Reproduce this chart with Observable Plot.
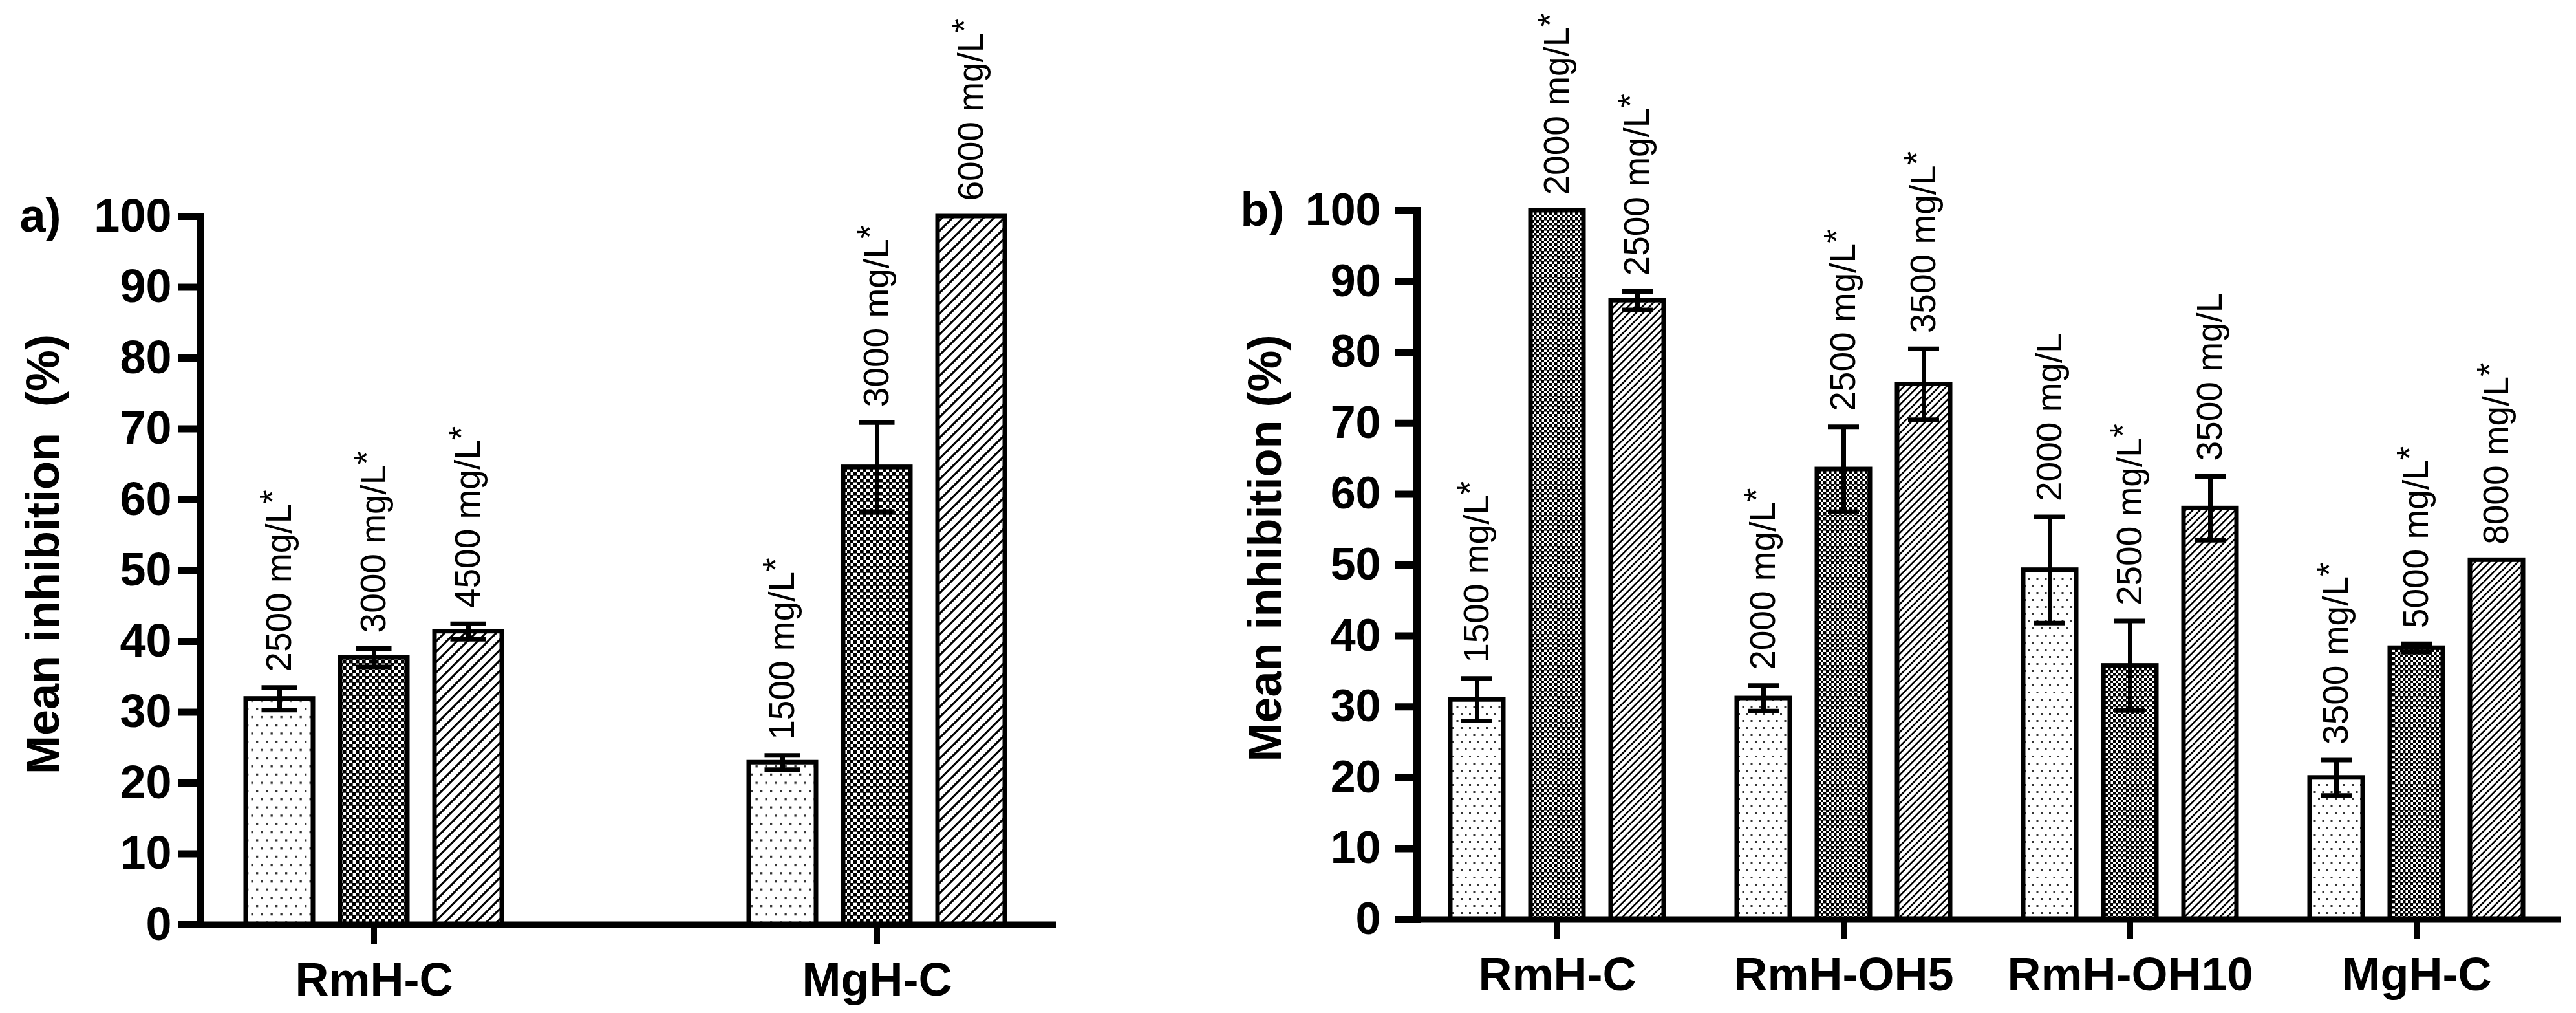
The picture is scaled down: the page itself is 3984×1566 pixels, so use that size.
<!DOCTYPE html>
<html><head><meta charset="utf-8">
<script src="https://cdn.jsdelivr.net/npm/d3@7"></script>
<script src="https://cdn.jsdelivr.net/npm/@observablehq/plot@0.6"></script>
<style>
html,body{margin:0;padding:0;background:#fff;}
#wrap{position:relative;width:3984px;height:1566px;overflow:hidden;background:#fff;}
#left{position:absolute;left:0;top:0;}
#right{position:absolute;left:1900px;top:0;}
svg text{font-family:"Liberation Sans",Arial,sans-serif;}
</style></head><body>
<svg width="0" height="0" style="position:absolute">
<defs>
  <pattern id="dotsA" patternUnits="userSpaceOnUse" width="15" height="25.4">
    <rect width="15" height="25.4" fill="#fff"/>
    <rect x="2" y="2" width="3.3" height="3.3" fill="#333"/>
    <rect x="9.5" y="14.7" width="3.3" height="3.3" fill="#333"/>
  </pattern>
  <pattern id="checkA" patternUnits="userSpaceOnUse" width="10" height="10">
    <rect width="10" height="10" fill="#fff"/>
    <rect x="0" y="0" width="5.6" height="5.6" fill="#000"/>
    <rect x="5" y="5" width="5.6" height="5.6" fill="#000"/>
  </pattern>
  <pattern id="hatchA" patternUnits="userSpaceOnUse" width="16" height="16">
    <rect width="16" height="16" fill="#fff"/>
    <path d="M0,16L16,0M-4,4L4,-4M12,20L20,12" stroke="#000" stroke-width="3.2"/>
  </pattern>
  <pattern id="dotsB" patternUnits="userSpaceOnUse" width="13" height="22">
    <rect width="13" height="22" fill="#fff"/>
    <rect x="2" y="2" width="3" height="3" fill="#333"/>
    <rect x="8.5" y="13" width="3" height="3" fill="#333"/>
  </pattern>
  <pattern id="checkB" patternUnits="userSpaceOnUse" width="8" height="8">
    <rect width="8" height="8" fill="#fff"/>
    <rect x="0" y="0" width="4.5" height="4.5" fill="#000"/>
    <rect x="4" y="4" width="4.5" height="4.5" fill="#000"/>
  </pattern>
  <pattern id="hatchB" patternUnits="userSpaceOnUse" width="11" height="11">
    <rect width="11" height="11" fill="#fff"/>
    <path d="M0,11L11,0M-3,3L3,-3M8,14L14,8" stroke="#000" stroke-width="2.6"/>
  </pattern>
</defs></svg>
<div id="wrap"><div id="left"></div><div id="right"></div></div>
<script>
// ---- Panel a ----
const groupsA = ["RmH-C", "MgH-C"];
const meanA = [[31.9, 37.7, 41.4], [22.9, 64.6, 100]];
const errA = [[1.6, 1.3, 1.1], [1.0, 6.3, 0]];
const labelsA = [["2500 mg/L*", "3000 mg/L*", "4500 mg/L*"], ["1500 mg/L*", "3000 mg/L*", "6000 mg/L*"]];
const titleA = "Mean inhibition\u00a0 (%)";

// ---- Panel b ----
const groupsB = ["RmH-C", "RmH-OH5", "RmH-OH10", "MgH-C"];
const meanB = [[31.0, 100, 87.3], [31.2, 63.5, 75.5], [49.3, 35.8, 58.0], [20.0, 38.3, 50.7]];
const errB = [[3.0, 0, 1.3], [1.8, 6.0, 5.0], [7.5, 6.3, 4.5], [2.5, 0.6, 0]];
const labelsB = [["1500 mg/L*", "2000 mg/L*", "2500 mg/L*"], ["2000 mg/L*", "2500 mg/L*", "3500 mg/L*"], ["2000 mg/L", "2500 mg/L*", "3500 mg/L"], ["3500 mg/L*", "5000 mg/L*", "8000 mg/L*"]];
const titleB = "Mean inhibition (%)";

const yTicks = [0, 10, 20, 30, 40, 50, 60, 70, 80, 90, 100];

function rowsOf(groups, mean, err, labels) {
  const rows = [];
  groups.forEach((g, i) => mean[i].forEach((v, s) => rows.push({group: g, s, v, e: err[i][s], label: labels[i][s]})));
  return rows;
}

function panel(cfg) {
  const rows = rowsOf(cfg.groups, cfg.mean, cfg.err, cfg.labels);
  const marks = [];
  for (let s = 0; s < 3; s++) {
    const d = rows.filter(r => r.s === s);
    const de = d.filter(r => r.e > 0);
    const dx = cfg.offsets[s];
    marks.push(Plot.barY(d, {x: "group", y: "v", dx, fill: cfg.fills[s], stroke: "#000", strokeWidth: 7}));
    marks.push(Plot.ruleX(de, {x: "group", y1: r => r.v - r.e, y2: r => r.v + r.e, dx, stroke: "#000", strokeWidth: 7}));
    marks.push(Plot.tickY(de, {x: "group", y: r => r.v + r.e, dx, insetLeft: cfg.capInset, insetRight: cfg.capInset, stroke: "#000", strokeWidth: 7}));
    marks.push(Plot.tickY(de, {x: "group", y: r => r.v - r.e, dx, insetLeft: cfg.capInset, insetRight: cfg.capInset, stroke: "#000", strokeWidth: 7}));
    marks.push(Plot.text(d, {x: "group", y: r => r.v + r.e, dx, dy: -24, text: "label", rotate: -90, textAnchor: "start", lineAnchor: "middle", fontSize: 55, fill: "#000", className: "barlabel"}));
  }
  marks.push(Plot.ruleY([0], {stroke: "#000", strokeWidth: 10, insetLeft: -31}));
  marks.push(Plot.frame({anchor: "left", stroke: "#000", strokeWidth: 11, strokeLinecap: "square"}));
  marks.push(Plot.axisY({anchor: "left", ticks: yTicks, tickSize: cfg.tickSize, tickPadding: cfg.tickPad, strokeWidth: 11, fontSize: cfg.tickFont, fontWeight: "bold", label: null}));
  marks.push(Plot.axisX({anchor: "bottom", tickSize: 30, tickPadding: 28, strokeWidth: 9, fontSize: 72, fontWeight: "bold", label: null}));
  marks.push(Plot.text([cfg.title], {text: d => d, frameAnchor: "left", textAnchor: "middle", lineAnchor: "middle", dx: cfg.titleDx, dy: cfg.titleDy, rotate: -90, fontSize: 72, fontWeight: "bold", fill: "#000"}));
  marks.push(Plot.text([cfg.tag], {text: d => d, frameAnchor: "top-left", dx: cfg.tagDx, textAnchor: "start", lineAnchor: "middle", fontSize: 72, fontWeight: "bold", fill: "#000"}));
  const p = Plot.plot({
    width: cfg.width, height: 1566,
    marginLeft: cfg.ml, marginRight: cfg.mr, marginTop: cfg.mt, marginBottom: cfg.mb,
    style: {fontFamily: "'Liberation Sans', Arial, sans-serif", background: "transparent", overflow: "visible", color: "#000"},
    x: {type: "band", domain: cfg.groups, paddingInner: cfg.pi, paddingOuter: cfg.po, align: cfg.align, axis: null},
    y: {domain: [0, 100], axis: null},
    marks
  });
  // raise the asterisk slightly, like a superscript
  p.querySelectorAll(".barlabel text").forEach(t => {
    const s = t.textContent;
    if (s.endsWith("*")) {
      t.textContent = s.slice(0, -1);
      const ts = document.createElementNS("http://www.w3.org/2000/svg", "tspan");
      ts.setAttribute("dy", "-0.18em");
      ts.textContent = "*";
      t.appendChild(ts);
    }
  });
  return p;
}

document.getElementById("left").appendChild(panel({
  groups: groupsA, mean: meanA, err: errA, labels: labelsA, title: titleA,
  width: 1900, ml: 309, mr: 267, mt: 334, mb: 137,
  pi: 0.8663, po: 0.284, align: 0.491,
  offsets: [-146, 0, 146], capInset: 24.5,
  fills: ["url(#dotsA)", "url(#checkA)", "url(#hatchA)"],
  tickSize: 34, tickPad: 10, tickFont: 72,
  titleDx: -242, titleDy: -25, tag: "a)", tagDx: -279
}));
document.getElementById("right").appendChild(panel({
  groups: groupsB, mean: meanB, err: errB, labels: labelsB, title: titleB,
  width: 2084, ml: 291, mr: 23, mt: 325, mb: 145,
  pi: 0.815, po: 0.4039, align: 0.489,
  offsets: [-124, 0, 124], capInset: 17,
  fills: ["url(#dotsB)", "url(#checkB)", "url(#hatchB)"],
  tickSize: 33, tickPad: 23, tickFont: 70,
  titleDx: -234, titleDy: -26, tag: "b)", tagDx: -273
}));
</script>
</body></html>
